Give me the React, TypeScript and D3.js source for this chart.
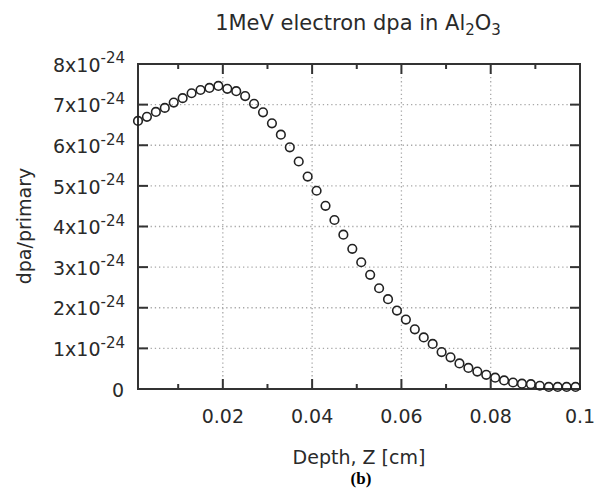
import React from "react";
import * as d3 from "d3";

const depth: number[] = Array.from({ length: 50 }, (_, i) => +(0.001 + 0.002 * i).toFixed(3));
const dpaMantissa: number[] = [
  6.60, 6.70, 6.82, 6.92, 7.05, 7.16, 7.28, 7.36, 7.41, 7.46,
  7.39, 7.33, 7.21, 7.02, 6.81, 6.54, 6.26, 5.95, 5.60, 5.23,
  4.88, 4.51, 4.16, 3.80, 3.45, 3.12, 2.81, 2.48, 2.21, 1.93,
  1.71, 1.47, 1.27, 1.11, 0.91, 0.78, 0.63, 0.52, 0.43, 0.35,
  0.28, 0.21, 0.16, 0.13, 0.12, 0.08, 0.05, 0.05, 0.05, 0.05,
];
const xTicks: number[] = [0.02, 0.04, 0.06, 0.08, 0.1];
const xTickLabels: string[] = ["0.02", "0.04", "0.06", "0.08", "0.1"];
const xMinorTicks: number[] = [0.01, 0.03, 0.05, 0.07, 0.09];
const yTicks: number[] = [0, 1, 2, 3, 4, 5, 6, 7, 8];
const titleText = "1MeV electron dpa in Al";
const xLabel = "Depth, Z [cm]";
const yLabel = "dpa/primary";
const caption = "(b)";

const W = 608, H = 488;
const L = 138, R = 580, T = 64, B = 389;
const FONT = "DejaVu Sans, sans-serif";
const TXT = "#2a2a2a";

export default function App() {
  const x = d3.scaleLinear().domain([0.001, 0.1]).range([L, R]);
  const y = d3.scaleLinear().domain([0, 8]).range([B, T]);
  const majorLen = 10, minorLen = 5;
  return (
    <svg width={W} height={H} style={{ position: "absolute", left: 0, top: 0, background: "#fff" }}>
      {/* grid */}
      <g stroke="#a8a8a8" strokeWidth={1.3} strokeDasharray="1.3,2.9">
        {xTicks.filter((t) => t < 0.1).map((t) => (
          <line key={"gx" + t} x1={x(t)} x2={x(t)} y1={B} y2={T} />
        ))}
        {yTicks.filter((t) => t > 0 && t < 8).map((t) => (
          <line key={"gy" + t} x1={L} x2={R} y1={y(t)} y2={y(t)} />
        ))}
      </g>
      {/* ticks */}
      <g stroke="#333" strokeWidth={2}>
        {xTicks.map((t) => (
          <g key={"tx" + t}>
            <line x1={x(t)} x2={x(t)} y1={B} y2={B - majorLen} />
            <line x1={x(t)} x2={x(t)} y1={T} y2={T + majorLen} />
          </g>
        ))}
        {xMinorTicks.map((t) => (
          <g key={"mx" + t}>
            <line x1={x(t)} x2={x(t)} y1={B} y2={B - minorLen} />
            <line x1={x(t)} x2={x(t)} y1={T} y2={T + minorLen} />
          </g>
        ))}
        {yTicks.map((t) => (
          <g key={"ty" + t}>
            <line x1={L} x2={L + majorLen} y1={y(t)} y2={y(t)} />
            <line x1={R} x2={R - majorLen} y1={y(t)} y2={y(t)} />
          </g>
        ))}
      </g>
      {/* frame */}
      <rect x={L} y={T} width={R - L} height={B - T} fill="none" stroke="#333" strokeWidth={2} />
      {/* data */}
      <g fill="none" stroke="#222" strokeWidth={1.6}>
        {depth.map((d, i) => (
          <circle key={i} cx={x(d)} cy={y(dpaMantissa[i])} r={4.3} />
        ))}
      </g>
      {/* labels */}
      <g fontFamily={FONT} fill={TXT}>
        {yTicks.map((t) =>
          t === 0 ? (
            <text key={"yl" + t} x={124} y={y(t) + 7.5} fontSize={19} textAnchor="end">0</text>
          ) : (
            <text key={"yl" + t} x={125} y={y(t) + 7.7} fontSize={19} textAnchor="end">
              {t + "x10"}
              <tspan fontSize={15} dy={-8.4}>-24</tspan>
            </text>
          )
        )}
        {xTicks.map((t, i) => (
          <text key={"xl" + t} x={x(t)} y={423} fontSize={19} textAnchor="middle">{xTickLabels[i]}</text>
        ))}
        <text x={359} y={464} fontSize={19} textAnchor="middle">{xLabel}</text>
        <text transform="translate(31,226) rotate(-90)" fontSize={19} textAnchor="middle">{yLabel}</text>
        <text x={358} y={30} fontSize={21} textAnchor="middle">
          {titleText}
          <tspan fontSize={15} dy={5}>2</tspan>
          <tspan fontSize={21} dy={-5}>O</tspan>
          <tspan fontSize={15} dy={5}>3</tspan>
        </text>
      </g>
      <text x={361} y={484} fontSize={17} fontWeight="bold" fontFamily="Liberation Serif, Times New Roman, serif" textAnchor="middle" fill="#000">{caption}</text>
    </svg>
  );
}
